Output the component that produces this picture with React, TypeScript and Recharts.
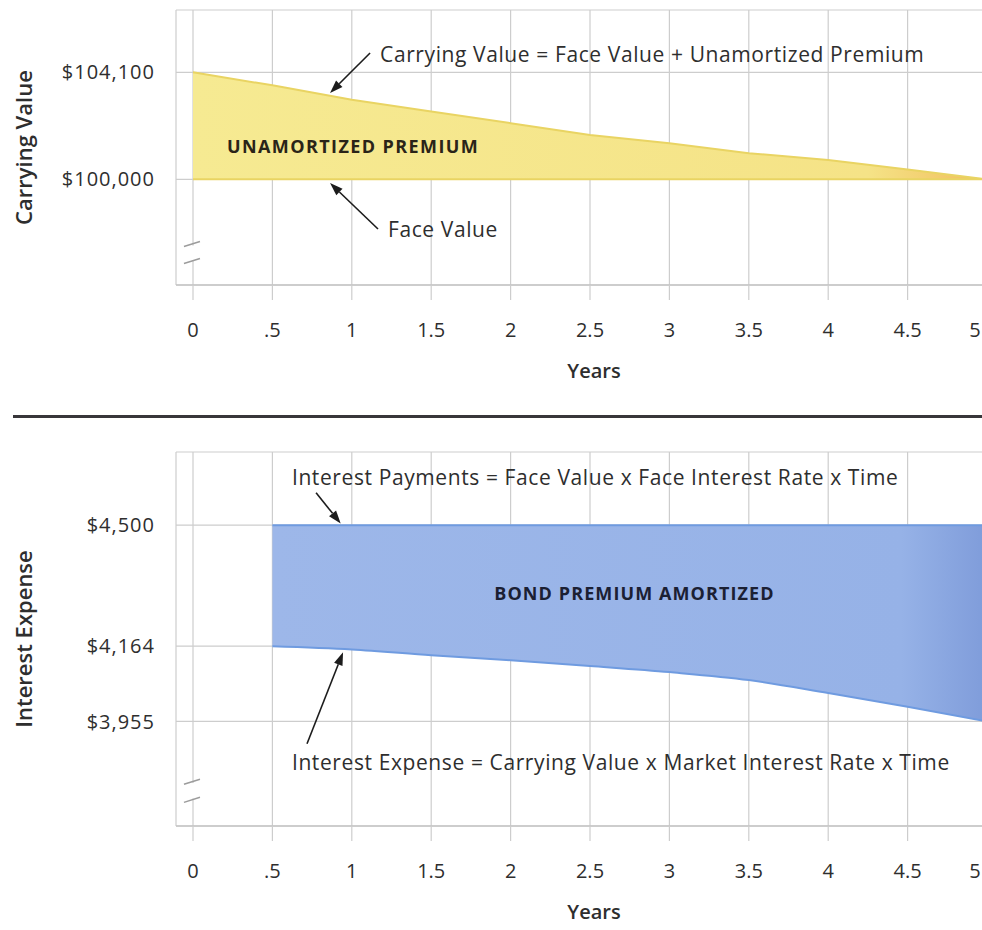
import React from "react";
import {
  ComposedChart,
  Area,
  XAxis,
  YAxis,
  CartesianGrid,
  ReferenceLine,
  ReferenceDot,
  ReferenceArea,
  Label,
} from "recharts";

// x axis (half-year periods)
const years = [0, 0.5, 1, 1.5, 2, 2.5, 3, 3.5, 4, 4.5, 5];
const xTickLabels = ["0", ".5", "1", "1.5", "2", "2.5", "3", "3.5", "4", "4.5", "5"];

// top chart: carrying value vs face value
const faceValue = [100000, 100000, 100000, 100000, 100000, 100000, 100000, 100000, 100000, 100000, 100000];
const carryingValue = [104100, 103600, 103050, 102600, 102150, 101700, 101380, 101000, 100740, 100380, 100000];
const carryingTicks = [100000, 104100];

// bottom chart: interest payments vs interest expense
const paymentYears = [0.5, 1, 1.5, 2, 2.5, 3, 3.5, 4, 4.5, 5];
const interestPayments = [4500, 4500, 4500, 4500, 4500, 4500, 4500, 4500, 4500, 4500];
const interestExpense = [4164, 4155, 4139, 4125, 4109, 4092, 4070, 4034, 3996, 3955];
const interestTicks = [3955, 4164, 4500];

const topData = years.map((year, i) => ({ year, premium: [faceValue[i], carryingValue[i]] }));
const bottomData = paymentYears.map((year, i) => ({ year, amortized: [interestExpense[i], interestPayments[i]] }));

const GRID = "#cdcdcd";
const TEXT = "#2e2e2e";
const FONT = "'Open Sans', sans-serif";

const money = (v: number) => "$" + v.toLocaleString("en-US");
const xLabel = (v: number) => xTickLabels[years.indexOf(v)] ?? String(v);

// x tick: keep the last label inside the picture edge
const YearTick = (props: any) => {
  const { x, y, payload } = props;
  return (
    <text x={Math.min(x, 975)} y={y} dy="0.71em" textAnchor="middle" fill={TEXT} fontSize={20} fontFamily={FONT}>
      {xLabel(payload.value)}
    </text>
  );
};

// arrow drawn from a ReferenceLine segment
const Arrow = (props: any) => {
  const { x1, y1, x2, y2 } = props;
  const a = Math.atan2(y2 - y1, x2 - x1);
  const len = 13;
  const half = 4.5;
  const bx = x2 - len * Math.cos(a);
  const by = y2 - len * Math.sin(a);
  const p1 = `${bx + half * Math.sin(a)},${by - half * Math.cos(a)}`;
  const p2 = `${bx - half * Math.sin(a)},${by + half * Math.cos(a)}`;
  return (
    <g>
      <line x1={x1} y1={y1} x2={bx} y2={by} stroke="#1c1c1c" strokeWidth={1.6} />
      <polygon points={`${x2},${y2} ${p1} ${p2}`} fill="#1c1c1c" />
    </g>
  );
};

const note = (value: string) => (
  <Label value={value} position="right" offset={0} fill={TEXT} fontSize={21} fontFamily={FONT} letterSpacing={0.6} />
);

const boldNote = (value: string, color: string, spacing: number) => (
  <Label
    value={value}
    position="center"
    fill={color}
    fontSize={18}
    fontWeight={700}
    fontFamily={FONT}
    letterSpacing={spacing}
  />
);

const xAxisProps = {
  type: "number" as const,
  dataKey: "year",
  domain: [0, 5],
  ticks: years,
  padding: { left: 17, right: 13 },
  tickSize: 15,
  tickMargin: 23,
  tickLine: { stroke: GRID, strokeWidth: 1.2 },
  axisLine: { stroke: "#c4c4c4", strokeWidth: 1.6 },
  tick: <YearTick />,
};

const yAxisProps = {
  type: "number" as const,
  width: 176,
  allowDataOverflow: true,
  tickLine: false,
  axisLine: false,
  tickSize: 0,
  tickMargin: 21,
  tickFormatter: money,
  tick: { fill: TEXT, fontSize: 20, fontFamily: FONT, letterSpacing: 1 },
};

export default function App() {
  return (
    <div
      style={{
        position: "absolute",
        left: 0,
        top: 0,
        width: 982,
        height: 930,
        overflow: "hidden",
        background: "#fff",
        fontFamily: FONT,
      }}
    >
      {/* 上のグラフ: Carrying Value */}
      <div style={{ position: "absolute", left: 0, top: 0 }}>
        <ComposedChart width={1000} height={400} data={topData} margin={{ top: 10, right: 0, bottom: 0, left: 0 }}>
          <defs>
            <linearGradient id="yellowFill" x1="0" y1="0" x2="1" y2="0">
              <stop offset="0%" stopColor="#f6ea92" />
              <stop offset="85%" stopColor="#f5e387" />
              <stop offset="100%" stopColor="#f1bd5c" />
            </linearGradient>
          </defs>
          <CartesianGrid stroke={GRID} strokeWidth={1.2} />
          <XAxis {...xAxisProps} height={115}>
            <Label value="Years" position="insideBottom" offset={22} dx={6} fill={TEXT} fontSize={20} fontWeight={600} fontFamily={FONT} />
          </XAxis>
          <YAxis {...yAxisProps} domain={[95950, 106487]} ticks={carryingTicks}>
            <Label
              value="Carrying Value"
              angle={-90}
              position="insideLeft"
              offset={24}
              fill={TEXT}
              fontSize={22}
              fontWeight={600}
              fontFamily={FONT}
              style={{ textAnchor: "middle" }}
            />
          </YAxis>
          <Area
            dataKey="premium"
            type="linear"
            fill="url(#yellowFill)"
            fillOpacity={1}
            stroke="#e9d463"
            strokeWidth={2}
            isAnimationActive={false}
          />
          {/* axis break */}
          <ReferenceArea x1={-0.013} x2={0.013} y1={96900} y2={97460} fill="#fff" fillOpacity={1} stroke="none" ifOverflow="visible" />
          <ReferenceLine segment={[{ x: -0.057, y: 97425 }, { x: 0.044, y: 97617 }]} stroke="#9c9c9c" strokeWidth={1.5} ifOverflow="visible" />
          <ReferenceLine segment={[{ x: -0.057, y: 96774 }, { x: 0.044, y: 96965 }]} stroke="#9c9c9c" strokeWidth={1.5} ifOverflow="visible" />

          <ReferenceDot x={1.008} y={101238} r={0} ifOverflow="visible" label={boldNote("UNAMORTIZED PREMIUM", "#2a2418", 1.4)} />
          <ReferenceLine segment={[{ x: 1.115, y: 104840 }, { x: 0.863, y: 103307 }]} shape={Arrow} ifOverflow="visible" />
          <ReferenceDot x={1.178} y={104763} r={0} ifOverflow="visible" label={note("Carrying Value = Face Value + Unamortized Premium")} />
          <ReferenceLine segment={[{ x: 1.165, y: 98096 }, { x: 0.863, y: 99858 }]} shape={Arrow} ifOverflow="visible" />
          <ReferenceDot x={1.228} y={98057} r={0} ifOverflow="visible" label={note("Face Value")} />
        </ComposedChart>
      </div>

      <div style={{ position: "absolute", left: 13, right: 0, top: 415, height: 2.5, background: "#38363a" }} />

      {/* 下のグラフ: Interest Expense */}
      <div style={{ position: "absolute", left: 0, top: 400 }}>
        <ComposedChart width={1000} height={530} data={bottomData} margin={{ top: 52, right: 0, bottom: 0, left: 0 }}>
          <defs>
            <linearGradient id="blueFill" x1="0" y1="0" x2="1" y2="0">
              <stop offset="0%" stopColor="#9db7e9" />
              <stop offset="88%" stopColor="#96b2e7" />
              <stop offset="100%" stopColor="#7f9cda" />
            </linearGradient>
          </defs>
          <CartesianGrid stroke={GRID} strokeWidth={1.2} />
          <XAxis {...xAxisProps} height={104}>
            <Label value="Years" position="insideBottom" offset={11} dx={6} fill={TEXT} fontSize={20} fontWeight={600} fontFamily={FONT} />
          </XAxis>
          <YAxis {...yAxisProps} domain={[3664.7, 4703.2]} ticks={interestTicks}>
            <Label
              value="Interest Expense"
              angle={-90}
              position="insideLeft"
              offset={24}
              fill={TEXT}
              fontSize={22}
              fontWeight={600}
              fontFamily={FONT}
              style={{ textAnchor: "middle" }}
            />
          </YAxis>
          <Area
            dataKey="amortized"
            type="monotone"
            fill="url(#blueFill)"
            fillOpacity={1}
            stroke="#6f9be0"
            strokeWidth={2}
            isAnimationActive={false}
          />
          {/* axis break */}
          <ReferenceArea x1={-0.013} x2={0.013} y1={3741} y2={3784} fill="#fff" fillOpacity={1} stroke="none" ifOverflow="visible" />
          <ReferenceLine segment={[{ x: -0.057, y: 3780.4 }, { x: 0.044, y: 3794.3 }]} stroke="#9c9c9c" strokeWidth={1.5} ifOverflow="visible" />
          <ReferenceLine segment={[{ x: -0.057, y: 3730.3 }, { x: 0.044, y: 3744.3 }]} stroke="#9c9c9c" strokeWidth={1.5} ifOverflow="visible" />

          <ReferenceDot x={2.78} y={4310.7} r={0} ifOverflow="visible" label={boldNote("BOND PREMIUM AMORTIZED", "#1b2033", 1.1)} />
          <ReferenceDot x={0.623} y={4633.6} r={0} ifOverflow="visible" label={note("Interest Payments = Face Value x Face Interest Rate x Time")} />
          <ReferenceLine segment={[{ x: 0.775, y: 4589.9 }, { x: 0.93, y: 4504.7 }]} shape={Arrow} ifOverflow="visible" />
          <ReferenceDot x={0.623} y={3841.1} r={0} ifOverflow="visible" label={note("Interest Expense = Carrying Value x Market Interest Rate x Time")} />
          <ReferenceLine segment={[{ x: 0.718, y: 3893.1 }, { x: 0.945, y: 4147.3 }]} shape={Arrow} ifOverflow="visible" />
        </ComposedChart>
      </div>
    </div>
  );
}
